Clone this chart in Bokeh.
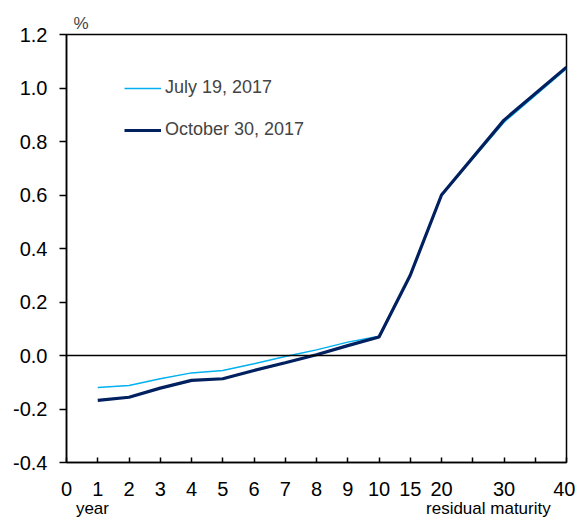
from bokeh.plotting import figure
from bokeh.models import (ColumnDataSource, FixedTicker, PrintfTickFormatter, Span,
                          Legend, LegendItem, Range1d, LinearAxis, Title)
from bokeh.embed import file_html
from bokeh.resources import INLINE

# ---- data ----
maturities = [1, 2, 3, 4, 5, 6, 7, 8, 9, 10, 15, 20, 30, 40]
july_2017 = [-0.12, -0.112, -0.087, -0.065, -0.056, -0.031, -0.004, 0.021, 0.05, 0.072,
             0.30, 0.60, 0.872, 1.072]
oct_2017 = [-0.168, -0.156, -0.122, -0.093, -0.087, -0.056, -0.027, 0.003, 0.037, 0.069,
            0.30, 0.60, 0.880, 1.078]
tick_maturities = [0, 1, 2, 3, 4, 5, 6, 7, 8, 9, 10, 15, 20, 30, 40]
y_ticks = [-0.4, -0.2, 0.0, 0.2, 0.4, 0.6, 0.8, 1.0, 1.2]
series_names = ["July 19, 2017", "October 30, 2017"]
unit_label = "%"
x_note_left = "year"
x_note_right = "residual maturity"


def mat_pos(m):
    # piecewise axis scale: 1 unit per year up to 10, then 1 unit per 5 years
    return m if m <= 10 else 10 + (m - 10) / 5.0


xpos = [mat_pos(m) for m in maturities]
src = ColumnDataSource(dict(x=xpos, july=july_2017, octo=oct_2017))

FONT = "Liberation Sans"

p = figure(width=575, height=522, output_backend="svg", toolbar_location=None,
           x_range=Range1d(0, mat_pos(40)), y_range=Range1d(-0.4, 1.2),
           min_border_left=66, min_border_right=9, min_border_top=34, min_border_bottom=60)
p.grid.visible = False
p.outline_line_color = "black"
p.outline_line_width = 1.5
p.background_fill_color = "white"
p.border_fill_color = "white"

# unit label above the frame, at its left
p.add_layout(Title(text=unit_label, align="left", offset=7, text_font=FONT,
                   text_font_size="17px", text_font_style="normal", standoff=3), "above")

# zero line
p.add_layout(Span(location=0, dimension="width", line_color="black", line_width=1.5))

r1 = p.line("x", "july", source=src, line_color="#00B0F0", line_width=1.5)
r2 = p.line("x", "octo", source=src, line_color="#002060", line_width=3.2)

# x axis
xticks = list(range(0, int(mat_pos(40)) + 1))
overrides = {t: "" for t in xticks}
for m in tick_maturities:
    overrides[mat_pos(m)] = str(m)
p.xaxis.ticker = FixedTicker(ticks=xticks)
p.xaxis.major_label_overrides = overrides
p.xaxis.major_tick_in = 5
p.xaxis.major_tick_out = 0
p.xaxis.minor_tick_line_color = None
p.xaxis.major_label_standoff = 19
p.xaxis.major_label_text_font_size = "20px"

# y axis
p.yaxis.ticker = FixedTicker(ticks=y_ticks)
p.yaxis.formatter = PrintfTickFormatter(format="%.1f")
p.yaxis.major_tick_in = 0
p.yaxis.major_tick_out = 7
p.yaxis.minor_tick_line_color = None
p.yaxis.major_label_standoff = 12
p.yaxis.major_label_text_font_size = "20px"

for ax in (p.xaxis, p.yaxis):
    ax.axis_line_color = "black"
    ax.axis_line_width = 1.5
    ax.major_tick_line_color = "black"
    ax.major_tick_line_width = 1.5
    ax.major_label_text_font = FONT
    ax.major_label_text_color = "black"

# notes under the x axis ("year" under 1, "residual maturity" at right)
note_pos = [0.83, 13.5]
note_axis = LinearAxis(ticker=FixedTicker(ticks=note_pos),
                       major_label_overrides={note_pos[0]: x_note_left, note_pos[1]: x_note_right},
                       axis_line_color=None, major_tick_line_color=None,
                       minor_tick_line_color=None, major_tick_in=0, major_tick_out=0,
                       major_label_standoff=0, major_label_text_font=FONT,
                       major_label_text_font_size="17px", major_label_text_color="black")
p.add_layout(note_axis, "below")

legend = Legend(items=[LegendItem(label=series_names[0], renderers=[r1]),
                       LegendItem(label=series_names[1], renderers=[r2])],
                location=(58, 322), border_line_color=None, background_fill_alpha=0,
                label_text_font=FONT, label_text_font_size="18px", glyph_width=37,
                glyph_height=20, label_height=20, spacing=21, padding=10, margin=0,
                label_standoff=4)
p.add_layout(legend, "center")

open("out.html", "w").write(file_html(p, INLINE))
